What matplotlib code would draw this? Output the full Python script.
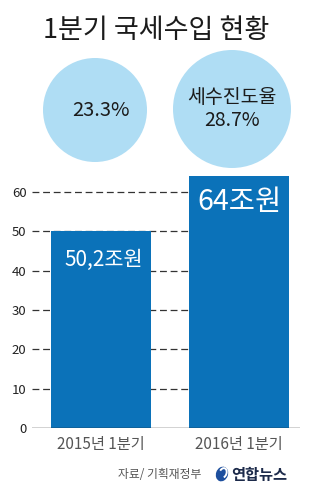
import matplotlib.pyplot as plt
from matplotlib.patches import Circle, Ellipse, Arc

plt.rcParams['font.family'] = ['Noto Sans CJK KR', 'DejaVu Sans']

title = '1분기 국세수입 현황'
categories = ['2015년 1분기', '2016년 1분기']
values = [50.2, 64]
value_labels = ['50,2조원', '64조원']
rate_labels = ['23.3%', '세수진도율\n28.7%']
yticks = [0, 10, 20, 30, 40, 50, 60]
source = '자료/ 기획재정부'
logo = '연합뉴스'

bar_color = '#0b72b9'
circle_color = '#afddf4'

W, H = 321, 495
fig = plt.figure(figsize=(W / 100, H / 100), dpi=100)
fig.patch.set_facecolor('white')

# overlay in pixel units for title, circles and footer
ov = fig.add_axes([0, 0, 1, 1])
ov.set_xlim(0, W)
ov.set_ylim(H, 0)
ov.axis('off')

ov.text(156, 30, title, ha='center', va='center', fontsize=19.5, color='#1b1b1b',
        fontweight='medium')
ov.add_patch(Circle((95, 110), 52, color=circle_color, lw=0))
ov.add_patch(Circle((232, 109), 59, color=circle_color, lw=0))
ov.text(101, 111, rate_labels[0], ha='center', va='center', fontsize=14.5, color='#1b1b1b',
        fontweight='medium')
ov.text(232, 109, rate_labels[1], ha='center', va='center', fontsize=14,
        color='#1b1b1b', linespacing=1.1, fontweight='medium')

ov.text(201, 475, source, ha='right', va='center', fontsize=8.5, color='#555555',
        style='italic')
ov.add_patch(Ellipse((222, 474), 12, 15, angle=20, color='#1d4f9e', lw=0))
ov.add_patch(Arc((223, 473), 7, 10, angle=20, theta1=200, theta2=420, color='white', lw=1.4))
ov.text(231, 475, logo, ha='left', va='center', fontsize=11, fontweight='bold',
        color='#1c2a4a')

# bar chart
x0, x1 = 32, 300
y0 = 428
ppu = (428 - 192) / 60.0
ymax = 64
ytop = y0 - ymax * ppu
ax = fig.add_axes([x0 / W, (H - y0) / H, (x1 - x0) / W, (y0 - ytop) / H])
ax.set_facecolor('none')

width = 0.725
pos = list(range(len(values)))
ax.set_xlim(-0.5, 1.442)
ax.set_ylim(0, ymax)

# dashed guide lines stop at the second bar
ax.hlines(yticks[1:], -0.5, pos[1] - width / 2, colors='#333333', linestyles=(0, (5.5, 3)),
          linewidth=0.9, zorder=1)
ax.bar(pos, values, width=width, color=bar_color, zorder=2)
ax.axhline(0, color='#222222', lw=1.0, zorder=3)

ax.text(pos[0] + 0.02, values[0] - 7.5, value_labels[0], ha='center', va='center',
        fontsize=15, color='white', zorder=4, fontweight='medium')
ax.text(pos[1], values[1] - 6.6, value_labels[1], ha='center', va='center', fontsize=20.5,
        color='white', zorder=4, fontweight='medium')

for s in ax.spines.values():
    s.set_visible(False)
ax.set_yticks(yticks)
ax.tick_params(axis='y', length=0, pad=4, labelsize=9.5, labelcolor='#222222')
ax.set_xticks(pos)
ax.set_xticklabels(categories)
ax.tick_params(axis='x', length=0, pad=6, labelsize=11, labelcolor='#555555')

fig.savefig('out.png', dpi=100)
